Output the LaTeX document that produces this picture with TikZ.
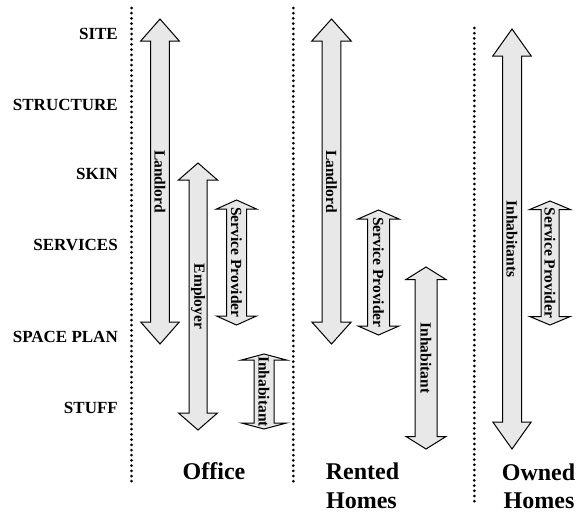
\documentclass[tikz,border=0pt]{standalone}
\usepackage{fontspec}
\setmainfont{Liberation Serif}
\begin{document}
\begin{tikzpicture}[x=1pt,y=-1pt,
  arr/.style={draw=black,line width=1pt,fill=black!9,line join=miter},
  lab/.style={rotate=-90,inner sep=0pt,font=\fontsize{15.5}{16}\selectfont\bfseries},
  rowlab/.style={anchor=base east,inner sep=0pt,font=\fontsize{17}{18}\selectfont\bfseries},
  coltitle/.style={anchor=base,inner sep=0pt,font=\fontsize{24}{28}\selectfont\bfseries},
  dotline/.style={line width=3pt,line cap=round,dash pattern=on 0pt off 5.2pt}]
\useasboundingbox (0,0) rectangle (583,514);
% #1 name, #2 x, #3 ytop, #4 ybot, #5 shaft half, #6 head half, #7 head len, #8 label
\newcommand{\blockarrow}[8]{%
  \draw[arr] (#2,#3) -- (#2+#6,#3+#7) -- (#2+#5,#3+#7) -- (#2+#5,#4-#7)
     -- (#2+#6,#4-#7) -- (#2,#4) -- (#2-#6,#4-#7) -- (#2-#5,#4-#7)
     -- (#2-#5,#3+#7) -- (#2-#6,#3+#7) -- cycle;
  \node[lab] (#1) at (#2,{(#3+#4)/2}) {#8};
}
% dotted separators
\coordinate (d1t) at (131.5,8);  \coordinate (d1b) at (131.5,484);
\coordinate (d2t) at (293.3,8);  \coordinate (d2b) at (293.3,484);
\coordinate (d3t) at (474.3,28); \coordinate (d3b) at (474.3,505);
\draw[dotline] (d1t) -- (d1b);
\draw[dotline] (d2t) -- (d2b);
\draw[dotline] (d3t) -- (d3b);
% row labels
\node[rowlab] (site) at (118,39) {SITE};
\node[rowlab] (structure) at (118,110) {STRUCTURE};
\node[rowlab] (skin) at (118,179.5) {SKIN};
\node[rowlab] (services) at (118,250.5) {SERVICES};
\node[rowlab] (spaceplan) at (118,342) {SPACE PLAN};
\node[rowlab] (stuff) at (118,413) {STUFF};
% office
\blockarrow{offLandlord}{160}{19}{344}{9.3}{19.3}{22}{Landlord}
\blockarrow{offEmployer}{198}{163}{430}{9}{19.5}{17}{Employer}
\blockarrow{offSP}{236.5}{200}{325}{10}{20}{9}{Service Provider}
\blockarrow{offInhab}{264}{354}{429}{10}{22.5}{6}{Inhabitant}
% rented
\blockarrow{renLandlord}{331.5}{19}{344}{9.3}{19.7}{22}{Landlord}
\blockarrow{renSP}{378.5}{210}{335}{11}{20.5}{9}{Service Provider}
\blockarrow{renInhab}{426}{267}{449}{11}{20}{12.5}{Inhabitant}
% owned
\blockarrow{ownInhab}{512}{29}{449}{9.5}{19.2}{27}{Inhabitants}
\blockarrow{ownSP}{550}{201}{325}{9}{20.3}{8.5}{Service Provider}
% column titles
\node[coltitle] (office) at (214,479.5) {Office};
\node[coltitle] (rented) at (362.5,479.5) {Rented};
\node[coltitle] (rentedhomes) at (361.5,508) {Homes};
\node[coltitle] (owned) at (538.5,480) {Owned};
\node[coltitle] (ownedhomes) at (539,508) {Homes};
\end{tikzpicture}
\end{document}
